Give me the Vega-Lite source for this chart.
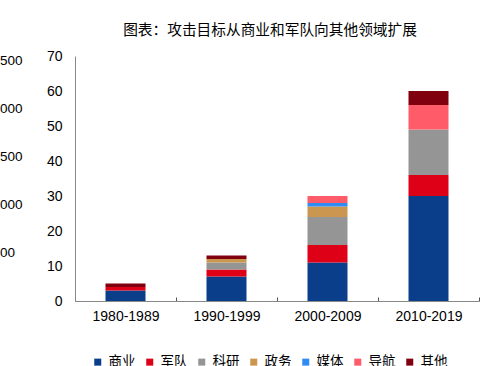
{
  "$schema": "https://vega.github.io/schema/vega-lite/v6.json",
  "width": 404,
  "height": 245,
  "autosize": {"type": "none"},
  "padding": {"left": 75, "top": 56, "right": 16, "bottom": 65},
  "background": "white",
  "config": {
    "view": {"stroke": null},
    "font": "Liberation Sans"
  },
  "title": {
    "text": "图表：攻击目标从商业和军队向其他领域扩展",
    "font": "Noto Sans CJK SC",
    "fontSize": 14.7,
    "fontWeight": "normal",
    "color": "#000000",
    "anchor": "middle",
    "dx": -7,
    "offset": 11
  },
  "datasets": {
    "attacks": [
      {"decade": "1980-1989", "target": "商业", "idx": 1, "n": 3},
      {"decade": "1980-1989", "target": "军队", "idx": 2, "n": 1},
      {"decade": "1980-1989", "target": "其他", "idx": 7, "n": 1},
      {"decade": "1990-1999", "target": "商业", "idx": 1, "n": 7},
      {"decade": "1990-1999", "target": "军队", "idx": 2, "n": 2},
      {"decade": "1990-1999", "target": "科研", "idx": 3, "n": 2},
      {"decade": "1990-1999", "target": "政务", "idx": 4, "n": 1},
      {"decade": "1990-1999", "target": "其他", "idx": 7, "n": 1},
      {"decade": "2000-2009", "target": "商业", "idx": 1, "n": 11},
      {"decade": "2000-2009", "target": "军队", "idx": 2, "n": 5},
      {"decade": "2000-2009", "target": "科研", "idx": 3, "n": 8},
      {"decade": "2000-2009", "target": "政务", "idx": 4, "n": 3},
      {"decade": "2000-2009", "target": "媒体", "idx": 5, "n": 1},
      {"decade": "2000-2009", "target": "导航", "idx": 6, "n": 2},
      {"decade": "2010-2019", "target": "商业", "idx": 1, "n": 30},
      {"decade": "2010-2019", "target": "军队", "idx": 2, "n": 6},
      {"decade": "2010-2019", "target": "科研", "idx": 3, "n": 13},
      {"decade": "2010-2019", "target": "导航", "idx": 6, "n": 7},
      {"decade": "2010-2019", "target": "其他", "idx": 7, "n": 4}
    ],
    "neighbour": [
      {"v": 500}, {"v": 1000}, {"v": 1500}, {"v": 2000}, {"v": 2500}
    ]
  },
  "layer": [
    {
      "data": {"name": "neighbour"},
      "mark": {"type": "point", "opacity": 0},
      "encoding": {
        "y": {
          "field": "v",
          "type": "quantitative",
          "scale": {"domain": [0, 2550], "nice": false},
          "axis": {
            "orient": "left",
            "title": null,
            "values": [500, 1000, 1500, 2000, 2500],
            "format": "d",
            "domain": false,
            "ticks": false,
            "grid": false,
            "offset": 83,
            "labelPadding": 0,
            "labelAlign": "left",
            "labelFontSize": 13.5,
            "labelColor": "#000000",
            "labelFont": "Liberation Sans"
          }
        }
      }
    },
    {
      "data": {"name": "attacks"},
      "mark": {"type": "bar", "width": 40},
      "encoding": {
        "x": {
          "field": "decade",
          "type": "nominal",
          "scale": {"paddingInner": 0, "paddingOuter": 0},
          "axis": {
            "title": null,
            "labelAngle": 0,
            "labelFontSize": 14,
            "labelColor": "#000000",
            "labelPadding": 12,
            "domainColor": "#888888",
            "tickColor": "#555555",
            "tickSize": -4,
            "tickBand": "extent",
            "grid": false
          }
        },
        "y": {
          "field": "n",
          "type": "quantitative",
          "stack": "zero",
          "scale": {"domain": [0, 70], "nice": false},
          "axis": {
            "orient": "left",
            "title": null,
            "values": [0, 10, 20, 30, 40, 50, 60, 70],
            "grid": false,
            "ticks": false,
            "labelPadding": 13,
            "labelFontSize": 14,
            "labelColor": "#000000",
            "domainColor": "#888888"
          }
        },
        "color": {
          "field": "target",
          "type": "nominal",
          "scale": {
            "domain": ["商业", "军队", "科研", "政务", "媒体", "导航", "其他"],
            "range": ["#0a3e8a", "#de0016", "#959595", "#cb964f", "#2f8cf5", "#ff5b69", "#810010"]
          },
          "legend": {
            "title": null,
            "orient": "none",
            "direction": "horizontal",
            "columns": 7,
            "legendX": 16,
            "legendY": 299,
            "padding": 0,
            "symbolType": "square",
            "symbolSize": 49,
            "symbolStrokeWidth": 0,
            "labelFont": "Noto Sans CJK SC",
            "labelFontSize": 13.5,
            "labelColor": "#000000",
            "labelOffset": 4,
            "columnPadding": 7
          }
        },
        "order": {"field": "idx", "sort": "ascending"}
      }
    }
  ],
  "resolve": {"scale": {"y": "independent"}, "axis": {"y": "independent"}}
}
